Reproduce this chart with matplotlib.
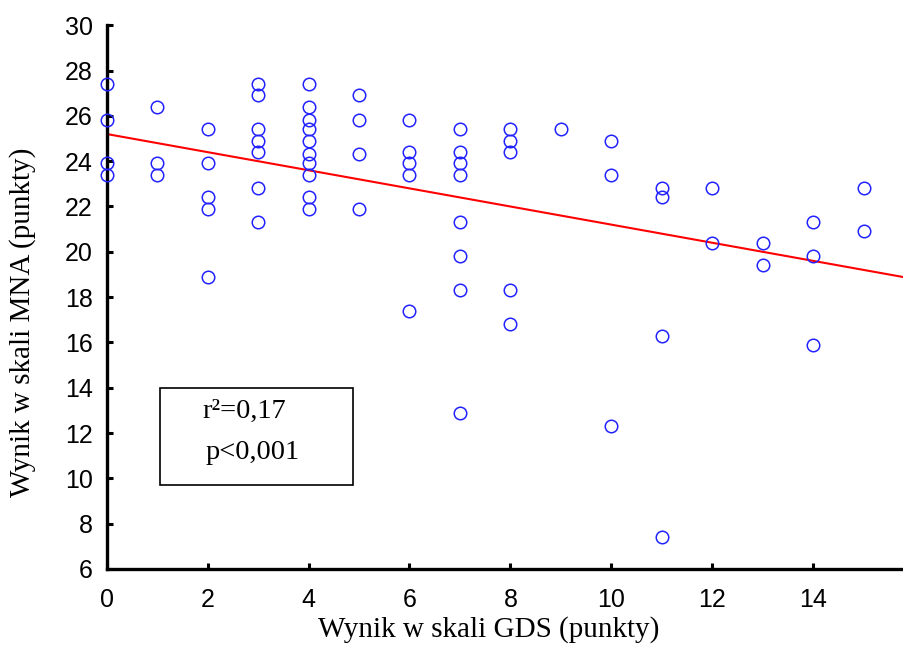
import matplotlib
matplotlib.use("Agg")
import matplotlib.pyplot as plt
from matplotlib.patches import Rectangle

# GDS score (x) and MNA score (y)
gds = [0, 0, 0, 0,
       1, 1, 1,
       2, 2, 2, 2, 2,
       3, 3, 3, 3, 3, 3, 3,
       4, 4, 4, 4, 4, 4, 4, 4, 4, 4,
       5, 5, 5, 5,
       6, 6, 6, 6, 6,
       7, 7, 7, 7, 7, 7, 7, 7,
       8, 8, 8, 8, 8,
       9,
       10, 10, 10,
       11, 11, 11, 11,
       12, 12,
       13, 13,
       14, 14, 14,
       15, 15]
mna = [27.4, 25.8, 23.9, 23.4,
       26.4, 23.9, 23.4,
       25.4, 23.9, 22.4, 21.9, 18.9,
       27.4, 26.9, 25.4, 24.9, 24.4, 22.8, 21.3,
       27.4, 26.4, 25.8, 25.4, 24.9, 24.3, 23.9, 23.4, 22.4, 21.9,
       26.9, 25.8, 24.3, 21.9,
       25.8, 24.4, 23.9, 23.4, 17.4,
       25.4, 24.4, 23.9, 23.4, 21.3, 19.8, 18.3, 12.9,
       25.4, 24.9, 24.4, 18.3, 16.8,
       25.4,
       24.9, 23.4, 12.3,
       22.8, 22.4, 16.3, 7.4,
       22.8, 20.4,
       20.4, 19.4,
       21.3, 19.8, 15.9,
       22.8, 20.9]

# regression line
intercept = 25.2
slope = -0.40

x_ticks = [0, 2, 4, 6, 8, 10, 12, 14]
y_ticks = [6, 8, 10, 12, 14, 16, 18, 20, 22, 24, 26, 28, 30]

fig = plt.figure(figsize=(9.04, 6.48), dpi=100)
ax = fig.add_axes([0.118, 0.122, 0.882, 0.839])

xmin, xmax = 0, 15.8
ax.plot([xmin, xmax], [intercept + slope * xmin, intercept + slope * xmax],
        color="red", lw=1.5, zorder=2)
ax.plot(gds, mna, "o", mfc="none", mec="#2222ff", ms=9, mew=1.1,
        clip_on=False, zorder=3)

ax.set_xlim(xmin, xmax)
ax.set_ylim(6, 30)
ax.set_xticks(x_ticks)
ax.set_yticks(y_ticks)

for s in ["top", "right"]:
    ax.spines[s].set_visible(False)
for s in ["left", "bottom"]:
    ax.spines[s].set_linewidth(2.4)

ax.tick_params(direction="in", length=4, width=2.2, labelsize=18)
ax.tick_params(axis="y", pad=10)
ax.tick_params(axis="x", pad=14)
for lab in ax.get_xticklabels() + ax.get_yticklabels():
    lab.set_family("Liberation Sans")

ax.set_xlabel("Wynik w skali GDS (punkty)", family="Liberation Serif",
              fontsize=21)
ax.set_ylabel("Wynik w skali MNA (punkty)", family="Liberation Serif",
              fontsize=21)
ax.xaxis.set_label_coords(0.479, -0.087)
ax.yaxis.set_label_coords(-0.089, 0.454)

ax.add_patch(Rectangle((0.0665, 0.154), 0.2425, 0.179, transform=ax.transAxes,
                       fill=False, lw=1.2, ec="black"))
ax.text(0.173, 0.289, "r²=0,17", transform=ax.transAxes, ha="center",
        va="center", family="Liberation Serif", fontsize=20.5)
ax.text(0.183, 0.215, "p<0,001", transform=ax.transAxes, ha="center",
        va="center", family="Liberation Serif", fontsize=20.5)

fig.savefig("out.png", dpi=100)
